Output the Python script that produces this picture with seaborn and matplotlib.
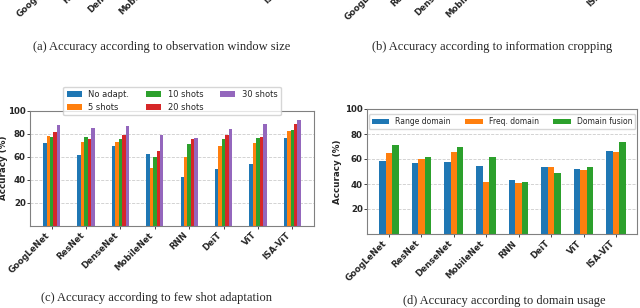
import numpy as np
import pandas as pd
import seaborn as sns
import matplotlib.pyplot as plt

# categories
models = ["GoogLeNet", "ResNet", "DenseNet", "MobileNet", "RNN", "DeiT", "ViT", "ISA-ViT"]

# (c) few shot adaptation
shot_labels = ["No adapt.", "5 shots", "10 shots", "20 shots", "30 shots"]
no_adapt = [71.5, 61.5, 69.5, 62, 42, 49, 54, 76.5]
shots_5 = [78, 72.5, 72.5, 50.5, 60, 69, 71.5, 82]
shots_10 = [77.5, 77.5, 75.5, 59.5, 71, 75.5, 76.5, 83]
shots_20 = [81.5, 75.5, 78.5, 65, 75, 78.5, 77, 88]
shots_30 = [87.5, 85, 86.5, 79, 76, 84, 88, 92]

# (d) domain usage
domain_labels = ["Range domain", "Freq. domain", "Domain fusion"]
range_domain = [58.5, 57, 58, 54.5, 43, 53.5, 52, 66.5]
freq_domain = [64.5, 60, 66, 42, 40.5, 54, 51, 65.5]
domain_fusion = [71, 61.5, 69.5, 62, 42, 48.5, 53.5, 74]

captions = [
    "(a) Accuracy according to observation window size",
    "(b) Accuracy according to information cropping",
    "(c) Accuracy according to few shot adaptation",
    "(d) Accuracy according to domain usage",
]

df_shots = pd.DataFrame({
    "Model": models * len(shot_labels),
    "Setting": np.repeat(shot_labels, len(models)),
    "Accuracy": no_adapt + shots_5 + shots_10 + shots_20 + shots_30,
})
df_domain = pd.DataFrame({
    "Model": models * len(domain_labels),
    "Domain": np.repeat(domain_labels, len(models)),
    "Accuracy": range_domain + freq_domain + domain_fusion,
})

sns.set_style("ticks")
plt.rcParams["font.family"] = ["DejaVu Sans"]
palette = sns.color_palette("tab10")

W, H = 640, 308
fig = plt.figure(figsize=(W / 100, H / 100), dpi=100)


def px_axes(x0, x1, top, bottom):
    return fig.add_axes([x0 / W, 1 - bottom / H, (x1 - x0) / W, (bottom - top) / H])


def style_axes(ax, labelpad):
    ax.set_ylim(0, 100)
    ax.set_yticks([20, 40, 60, 80, 100])
    ax.yaxis.grid(True, ls="--", color="0.8", lw=0.6)
    ax.set_axisbelow(True)
    for s in ax.spines.values():
        s.set_color("0.5")
        s.set_linewidth(0.8)
    ax.tick_params(labelsize=6.2, length=2, pad=1.5, width=0.6)
    ax.tick_params(axis="y", pad=1)
    ax.set_xticks(range(len(models)))
    ax.set_xticklabels(models, rotation=45, ha="right", fontweight="bold")
    plt.setp(ax.get_yticklabels(), fontweight="bold")
    ax.set_xlabel("")
    ax.set_ylabel("Accuracy (%)", fontsize=6.3, fontweight="bold", labelpad=labelpad)


# (c)
ax_c = px_axes(30, 314, 110.7, 225.7)
sns.barplot(data=df_shots, x="Model", y="Accuracy", hue="Setting", palette=palette[:5],
            width=0.5, saturation=1, linewidth=0, ax=ax_c)
ax_c.set_xlim(-0.63, 7.63)
style_axes(ax_c, 0.3)
ax_c.legend(ncol=3, loc="center", bbox_to_anchor=(0.5, 1.085), fontsize=6,
            handlelength=1.8, handleheight=0.6, columnspacing=2.0, borderpad=0.4)

# (d)
ax_d = px_axes(367, 637, 109, 234)
sns.barplot(data=df_domain, x="Model", y="Accuracy", hue="Domain", palette=palette[:3],
            width=0.6, saturation=1, linewidth=0, ax=ax_d)
ax_d.set_xlim(-0.67, 7.64)
style_axes(ax_d, 2)
ax_d.legend(ncol=3, loc="upper center", mode="expand", bbox_to_anchor=(0, 0, 1, 0.97),
            fontsize=5.5, handlelength=2.3, handleheight=0.6, borderaxespad=0.2)

# cut-off tick labels of the panels above
for x0, x1, bottom in [(38, 314, -30), (367, 637, -27)]:
    ax_top = px_axes(x0, x1, bottom - 40, bottom)
    ax_top.set_xlim(-0.63, 7.63)
    ax_top.set_xticks(range(len(models)))
    ax_top.set_xticklabels(models, rotation=45, ha="right", fontweight="bold", fontsize=6.2)
    ax_top.tick_params(length=0, pad=3.5)
    ax_top.set_yticks([])
    for s in ax_top.spines.values():
        s.set_visible(False)

# captions
cap_kw = dict(fontsize=9, family=["Liberation Serif", "DejaVu Serif"], ha="center", va="center")
fig.text(161.5 / W, 1 - 47 / H, captions[0], **cap_kw)
fig.text(492 / W, 1 - 47 / H, captions[1], **cap_kw)
fig.text(156.5 / W, 1 - 298 / H, captions[2], **cap_kw)
fig.text(504 / W, 1 - 301 / H, captions[3], **cap_kw)

fig.savefig("out.png", dpi=100)
